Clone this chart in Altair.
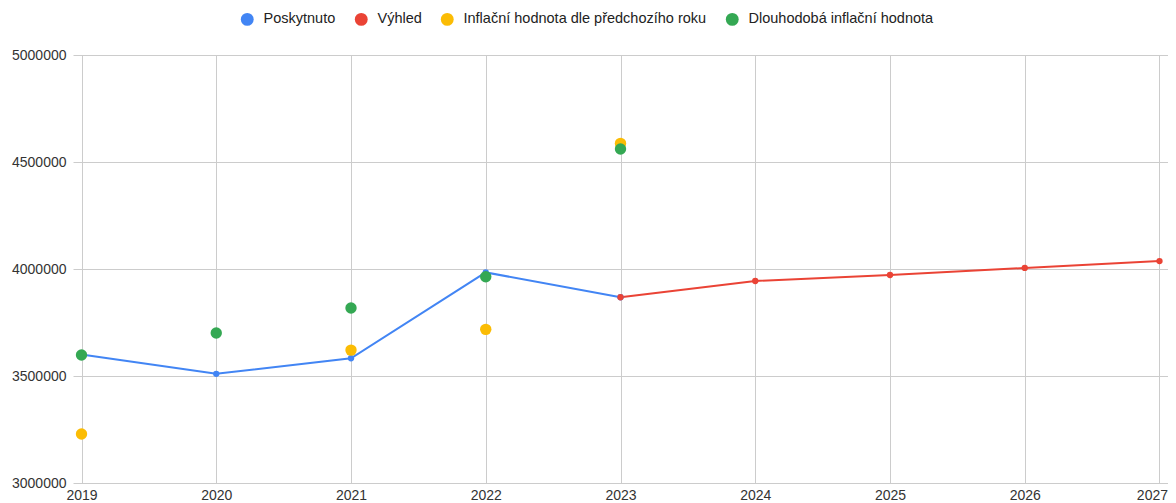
import altair as alt
import pandas as pd

years_line1 = [2019, 2020, 2021, 2022, 2023]
poskytnuto = [3600000, 3510000, 3583000, 3984000, 3868000]
years_line2 = [2023, 2024, 2025, 2026, 2027]
vyhled = [3868000, 3944000, 3972000, 4005000, 4037000]
years_infl = [2019, 2021, 2022, 2023]
infl_predchozi = [3229000, 3621000, 3718000, 4587000]
years_dlouho = [2019, 2020, 2021, 2022, 2023]
dlouhodoba = [3598000, 3701000, 3818000, 3964000, 4561000]

series_names = ["Poskytnuto", "Výhled", "Inflační hodnota dle předchozího roku", "Dlouhodobá inflační hodnota"]
series_colors = ["#4285F4", "#EA4335", "#FBBC04", "#34A853"]
x_ticks = [2019, 2020, 2021, 2022, 2023, 2024, 2025, 2026, 2027]
y_ticks = [3000000, 3500000, 4000000, 4500000, 5000000]

line_df = pd.concat([
    pd.DataFrame({"rok": years_line1, "hodnota": poskytnuto, "rada": series_names[0]}),
    pd.DataFrame({"rok": years_line2, "hodnota": vyhled, "rada": series_names[1]}),
])
dot_df = pd.concat([
    pd.DataFrame({"rok": years_infl, "hodnota": infl_predchozi, "rada": series_names[2]}),
    pd.DataFrame({"rok": years_dlouho, "hodnota": dlouhodoba, "rada": series_names[3]}),
])

color_scale = alt.Scale(domain=series_names, range=series_colors)
legend = alt.Legend(title=None, orient="none", legendX=167, legendY=-43,
                    direction="horizontal", symbolType="circle", symbolSize=165,
                    labelFontSize=14.5, labelOffset=9, columnPadding=18, labelLimit=500,
                    padding=0, labelFont="Liberation Sans", labelColor="#222222",
                    symbolStrokeWidth=0, symbolOpacity=1)

x_enc = alt.X("rok:Q", scale=alt.Scale(domain=[2019, 2027], padding=8.5, nice=False, zero=False),
              axis=alt.Axis(values=x_ticks, format="d", title=None, tickSize=0, labelPadding=5,
                            domain=False, grid=True, labelFlush=False,
                            labelAlign=alt.condition("datum.value == 2027", alt.value("right"), alt.value("center")),
                            labelOffset=alt.condition("datum.value == 2027", alt.value(8), alt.value(0))))
y_enc = alt.Y("hodnota:Q", scale=alt.Scale(domain=[3000000, 5000000], nice=False, zero=False),
              axis=alt.Axis(values=y_ticks, format="d", title=None, tickSize=0, labelPadding=7,
                            domain=False, grid=True))

color_enc = alt.Color("rada:N", scale=color_scale, legend=legend)

lines = alt.Chart(line_df).mark_line(strokeWidth=2).encode(
    x=x_enc, y=y_enc, color=color_enc, detail="rada:N",
)
line_dots = alt.Chart(line_df).mark_circle(size=40, opacity=1).encode(
    x=x_enc, y=y_enc, color=color_enc,
)
big_dots = alt.Chart(dot_df).mark_circle(size=130, opacity=1).encode(
    x=x_enc, y=y_enc, color=color_enc,
)

chart = alt.layer(lines, line_dots, big_dots).properties(
    width=1095, height=428,
    autosize=alt.AutoSizeParams(type="none"),
    padding={"left": 65, "top": 47, "right": 0, "bottom": 20},
).configure_view(stroke=None).configure_axis(
    gridColor="#cccccc", gridWidth=1, labelFont="Liberation Sans", labelFontSize=14,
    labelColor="#333333"
).configure_axisX(labelBaseline="top")

chart.save("out.html", embed_options={"renderer": "svg", "actions": False})
